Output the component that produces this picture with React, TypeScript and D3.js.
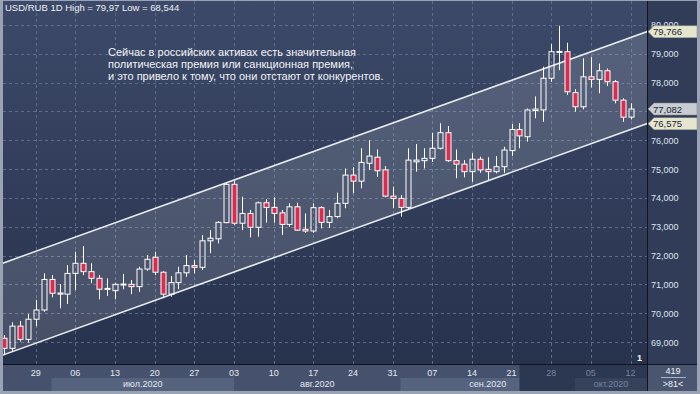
import * as d3 from 'd3';

// USD/RUB daily candles, 23 Jun 2020 .. 12 Oct 2020 (weekdays)
const opens = [
  69.13, 68.78, 69.55, 69.09, 69.79, 70.11, 71.17, 70.66, 70.66, 71.38,
  71.73, 71.44, 71.21, 70.84, 70.78, 70.99, 71.00, 70.92, 71.53, 71.94,
  71.42, 70.66, 71.06, 71.40, 71.65, 71.59, 72.51, 72.58, 73.14, 74.47,
  73.12, 73.46, 72.98, 73.83, 73.67, 73.48, 73.08, 73.69, 72.91, 72.85,
  73.66, 73.15, 73.35, 73.81, 74.79, 74.58, 75.20, 75.41, 74.97, 74.06,
  73.98, 73.67, 75.25, 75.29, 75.37, 75.72, 76.26, 75.29, 75.17, 74.91,
  75.34, 74.99, 74.91, 75.08, 75.64, 76.37, 76.12, 77.03, 77.05, 78.15,
  79.05, 79.07, 77.65, 77.16, 78.20, 78.11, 78.41, 78.03, 77.39, 76.80,
];
const highs = [
  69.24, 69.68, 69.73, 69.97, 70.46, 71.38, 71.32, 71.01, 71.67, 72.13,
  72.33, 71.73, 71.32, 71.21, 71.06, 71.36, 71.15, 71.61, 72.02, 72.13,
  71.46, 71.29, 71.61, 72.02, 71.84, 72.71, 72.88, 73.20, 74.53, 74.60,
  74.04, 73.58, 73.87, 73.95, 74.02, 73.58, 73.81, 73.83, 73.46, 73.81,
  73.72, 73.58, 74.18, 75.02, 75.06, 75.72, 76.00, 75.68, 75.10, 74.39,
  74.10, 75.72, 75.87, 75.72, 76.26, 76.59, 76.49, 75.68, 75.31, 75.55,
  75.43, 75.41, 75.45, 75.77, 76.56, 76.59, 77.10, 77.52, 78.55, 79.34,
  79.97, 79.38, 77.77, 78.84, 78.88, 78.66, 78.49, 78.09, 77.45, 77.28,
];
const lows = [
  68.544, 68.66, 69.01, 68.98, 69.55, 70.05, 70.55, 70.17, 70.32, 70.80,
  71.32, 71.04, 70.48, 70.60, 70.48, 70.83, 70.66, 70.74, 71.47, 71.32,
  70.52, 70.57, 70.83, 71.26, 71.38, 71.50, 72.08, 72.42, 73.12, 73.06,
  72.88, 72.63, 72.65, 73.14, 73.14, 72.71, 73.00, 72.85, 72.79, 72.79,
  72.94, 72.96, 73.29, 73.64, 74.16, 74.33, 74.97, 74.73, 74.02, 73.64,
  73.35, 73.58, 74.91, 75.02, 75.25, 75.68, 75.25, 74.68, 74.71, 74.56,
  74.87, 74.62, 74.85, 74.87, 75.45, 75.72, 75.95, 76.76, 76.64, 78.03,
  78.43, 77.57, 76.99, 77.07, 77.83, 77.63, 77.88, 77.28, 76.64, 76.72,
];
const closes = [
  68.78, 69.55, 69.09, 69.79, 70.11, 71.17, 70.69, 70.70, 71.38, 71.73,
  71.44, 71.21, 70.83, 70.86, 71.00, 71.01, 70.92, 71.53, 71.87, 71.42,
  70.66, 71.06, 71.40, 71.65, 71.59, 72.51, 72.60, 73.15, 74.47, 73.12,
  73.46, 72.98, 73.83, 73.67, 73.46, 73.08, 73.69, 72.88, 72.85, 73.66,
  73.15, 73.35, 73.81, 74.79, 74.58, 75.23, 75.45, 74.94, 74.06, 73.98,
  73.67, 75.31, 75.31, 75.37, 75.72, 76.26, 75.29, 75.17, 74.91, 75.34,
  74.97, 74.91, 75.08, 75.66, 76.37, 76.15, 77.05, 77.08, 78.15, 79.07,
  79.08, 77.68, 77.16, 78.20, 78.11, 78.41, 78.03, 77.39, 76.80, 77.082,
];

// weekly ticks (mondays), as candle indices
const tickIdx = [4, 9, 14, 19, 24, 29, 34, 39, 44, 49, 54, 59, 64, 69, 74, 79];
const tickLabels = ['29', '06', '13', '20', '27', '03', '10', '17', '24', '31', '07', '14', '21', '28', '05', '12'];
const monthNames = ['июл.2020', 'авг.2020', 'сен.2020', 'окт.2020'];
const monthStart = [6, 29, 50, 72];
const priceTicks = [69, 70, 71, 72, 73, 74, 75, 76, 77, 78, 79, 80];

// regression channel, value at first and last candle
const channelUpper = [71.75, 79.56];
const channelLower = [68.56, 76.37];
const lastPrice = 77.082;
const upperTag = 79.766;
const lowerTag = 76.575;

const header = 'USD/RUB 1D High = 79,97 Low = 68,544';
const note = [
  'Сейчас в российских активах есть значительная',
  'политическая премия или санкционная премия,',
  'и это привело к тому, что они отстают от конкурентов.',
];

const W = 700, H = 394;
const L = 3, R = 647, T = 1, B = 364;

const fmt = (v: number) => v.toFixed(3).replace('.', ',');

export default function App() {
  const x = d3.scaleLinear().domain([0, 79]).range([4, 630.5]);
  const y = d3.scaleLinear().domain([69, 80]).range([342, 24.9]);
  const ch = d3.scaleLinear().domain([0, 79]);
  const up = ch.copy().range(channelUpper);
  const lo = ch.copy().range(channelLower);
  const i0 = x.invert(L - 2), i1 = x.invert(R + 2);

  const area = d3.area<number>()
    .x(d => x(d)).y0(d => y(lo(d))).y1(d => y(up(d)));
  const line = (s: d3.ScaleLinear<number, number>) =>
    d3.line<number>().x(d => x(d)).y(d => y(s(d)))([i0, i1]) || '';

  const font = "'Liberation Sans', Arial, sans-serif";
  const idx = d3.range(opens.length);
  const bw = 5;
  const tags = [upperTag, lastPrice, lowerTag];
  // the 77,000 label sits fully under the last-price tag
  const axisTicks = priceTicks.filter(v => v === 80 || tags.every(t => Math.abs(y(t) - y(v)) > 7));

  const tag = (v: number, bg: string) => {
    const cy = y(v);
    return (
      <g key={v}>
        <path d={`M${R + 1},${cy} L${R + 7},${cy - 6} L697,${cy - 6} L697,${cy + 6} L${R + 7},${cy + 6} Z`}
          fill={bg} stroke="#8a8f80" strokeWidth={0.5} />
        <text x={R + 6} y={cy + 3.5} fontSize={9.5} fill="#1e2532" fontFamily={font}>{fmt(v)}</text>
      </g>
    );
  };

  return (
    <svg width={W} height={H} style={{ position: 'fixed', left: 0, top: 0 }} fontFamily={font}>
      <defs>
        <linearGradient id="bg" x1="0" y1="0" x2="0" y2="1">
          <stop offset="0" stopColor="#3c4968" />
          <stop offset="1" stopColor="#27324d" />
        </linearGradient>
        <clipPath id="plot"><rect x={L} y={T} width={R - L} height={B - T} /></clipPath>
      </defs>
      <rect width={W} height={H} fill="#9aa3b3" />
      <rect x={L} y={T} width={R - L} height={B - T} fill="url(#bg)" />
      <rect x={R} y={T} width={697 - R} height={B - T} fill="#303c58" />

      {/* grid */}
      <g stroke="#5d6c8b" strokeDasharray="3,3" strokeWidth={1}>
        {priceTicks.map(v => (
          <line key={v} x1={L} x2={R} y1={Math.round(y(v)) + 0.5} y2={Math.round(y(v)) + 0.5} />
        ))}
        {tickIdx.map(i => (
          <line key={i} x1={Math.round(x(i)) + 0.5} x2={Math.round(x(i)) + 0.5} y1={T} y2={B} />
        ))}
      </g>

      {/* channel */}
      <g clipPath="url(#plot)">
        <path d={area([i0, i1]) || ''} fill="#ffffff" fillOpacity={0.14} />
        <path d={line(up)} stroke="#e8ebf0" strokeWidth={1.5} fill="none" />
        <path d={line(lo)} stroke="#e8ebf0" strokeWidth={1.5} fill="none" />

        {/* candles: hollow up bodies, red down bodies */}
        {idx.map(i => {
          const cx = Math.round(x(i)) + 0.5;
          const o = y(opens[i]), c = y(closes[i]);
          const top = Math.min(o, c), h = Math.max(Math.abs(o - c), 1);
          const down = closes[i] < opens[i];
          return (
            <g key={i}>
              <line x1={cx} x2={cx} y1={y(highs[i])} y2={top} stroke="#ffffff" strokeWidth={1} />
              <line x1={cx} x2={cx} y1={top + h} y2={y(lows[i])} stroke="#ffffff" strokeWidth={1} />
              <rect x={cx - bw / 2} y={top} width={bw} height={h}
                fill={down ? '#dc2b4f' : 'none'} stroke="#ffffff" strokeWidth={1} />
            </g>
          );
        })}
      </g>

      <text x={5} y={11} fontSize={9.5} fill="#eef1f6">{header}</text>
      {note.map((s, k) => (
        <text key={k} x={108} y={56 + k * 12} fontSize={11} fill="#f2f4f8">{s}</text>
      ))}
      <text x={637} y={361} fontSize={9} fontWeight="bold" fill="#ffffff">1</text>

      {/* right axis */}
      {axisTicks.map(v => (
        <text key={v} x={651} y={y(v) + 3.5} fontSize={9} fill="#dfe4ee">{fmt(v)}</text>
      ))}
      {tag(upperTag, '#e6e6cf')}
      {tag(lastPrice, '#c9ccd3')}
      {tag(lowerTag, '#e6e6cf')}

      {/* bottom axis */}
      <rect x={L} y={B} width={R - L} height={391 - B} fill="#46526d" />
      {[0, 2].map(m => (
        <rect key={m} x={x(monthStart[m])} y={378} width={x(monthStart[m + 1]) - x(monthStart[m])} height={13} fill="#56637f" />
      ))}
      <rect x={x(65)} y={B} width={R - x(65)} height={391 - B} fill="#2c3751" />
      <rect x={x(monthStart[3])} y={378} width={R - x(monthStart[3])} height={13} fill="#36425c" />
      {tickIdx.map((i, k) => (
        <text key={i} x={x(i)} y={376} fontSize={9} textAnchor="middle"
          fill={i >= 65 ? '#76839c' : '#e4e8f0'}>{tickLabels[k]}</text>
      ))}
      {monthNames.map((m, k) => {
        const a = x(monthStart[k]);
        const b = k < 3 ? x(monthStart[k + 1]) : R;
        return (
          <text key={m} x={(a + b) / 2} y={387} fontSize={9} textAnchor="middle"
            fill={a >= x(65) ? '#76839c' : '#e4e8f0'}>{m}</text>
        );
      })}
      <rect x={R} y={B} width={697 - R} height={391 - B} fill="#4a5670" />
      <text x={673} y={374} fontSize={9} textAnchor="middle" fill="#eef1f6">419</text>
      <line x1={661} x2={686} y1={377.5} y2={377.5} stroke="#aab3c4" />
      <text x={673} y={387} fontSize={9} textAnchor="middle" fill="#eef1f6">{'>81<'}</text>

      <line x1={R + 0.5} x2={R + 0.5} y1={T} y2={391} stroke="#10141c" />
      <line x1={L} x2={697} y1={B + 0.5} y2={B + 0.5} stroke="#10141c" />
    </svg>
  );
}
